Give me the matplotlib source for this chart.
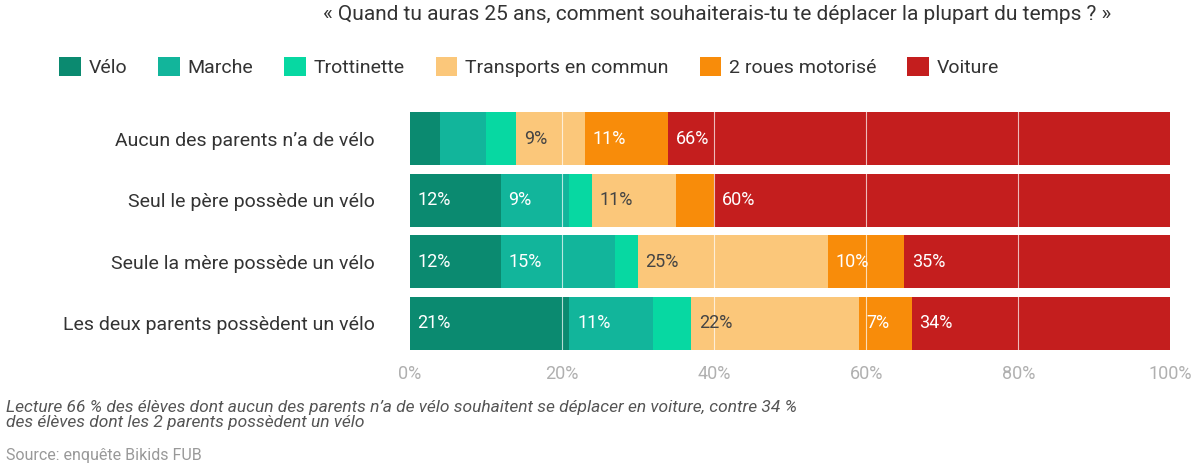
import numpy as np
import matplotlib.pyplot as plt

plt.rcParams['font.family'] = ['Roboto', 'DejaVu Sans']

# catégories (du haut vers le bas)
categories = ["Aucun des parents n’a de vélo",
              "Seul le père possède un vélo",
              "Seule la mère possède un vélo",
              "Les deux parents possèdent un vélo"]

modes = ["Vélo", "Marche", "Trottinette", "Transports en commun",
         "2 roues motorisé", "Voiture"]

velo = [4, 12, 12, 21]
marche = [6, 9, 15, 11]
trottinette = [4, 3, 3, 5]
transports = [9, 11, 25, 22]
deux_roues = [11, 5, 10, 7]
voiture = [66, 60, 35, 34]

colors = ["#0b8a70", "#12b59b", "#07d8a2", "#fbc77a", "#f88c0a", "#c41e1e"]
text_colors = ["white", "white", "white", "#444444", "white", "white"]

series = [velo, marche, trottinette, transports, deux_roues, voiture]

fig = plt.figure(figsize=(11.98, 4.69), dpi=100)
ax = fig.add_axes([0.342, 0.245, 0.635, 0.525])

y = np.arange(len(categories))
left = np.zeros(len(categories))
for vals, col, tcol, name in zip(series, colors, text_colors, modes):
    vals = np.array(vals, dtype=float)
    ax.barh(y, vals, left=left, height=0.86, color=col, label=name, zorder=2)
    for yi, (l, v) in enumerate(zip(left, vals)):
        if v >= 7:
            ax.text(l + 1.0, yi, f"{int(v)}%", va="center", ha="left",
                    color=tcol, fontsize=13, zorder=4)
    left += vals

# lignes de grille blanches par-dessus les barres
for gx in [20, 40, 60, 80]:
    ax.axvline(gx, color="white", lw=0.8, alpha=0.7, zorder=3)

ax.set_xlim(0, 100)
ax.set_ylim(len(categories) - 0.5, -0.5)
ax.set_xticks([0, 20, 40, 60, 80, 100])
ax.set_xticklabels(["0%", "20%", "40%", "60%", "80%", "100%"],
                   color="#b0b0b0", fontsize=13)
ax.set_yticks(y)
ax.set_yticklabels(categories, fontsize=14, color="#333333")
ax.tick_params(length=0, pad=8)
ax.tick_params(axis="y", pad=25)
for s in ax.spines.values():
    s.set_visible(False)

# titre (partiellement hors cadre)
fig.text(0.27, 0.99,
         "« Quand tu auras 25 ans, comment souhaiterais-tu te déplacer la plupart du temps ? »",
         fontsize=15, color="#333333", va="top", ha="left")

# légende
handles, labels = ax.get_legend_handles_labels()
fig.legend(handles, labels, loc="upper left", bbox_to_anchor=(0.035, 0.915),
           ncol=6, frameon=False, fontsize=14, handlelength=1.1,
           handleheight=1.1, handletextpad=0.4, columnspacing=1.6,
           labelcolor="#333333")

# note de lecture et source
fig.text(0.005, 0.148,
         "Lecture 66 % des élèves dont aucun des parents n’a de vélo souhaitent se déplacer en voiture, contre 34 %\n"
         "des élèves dont les 2 parents possèdent un vélo",
         fontsize=12.5, style="italic", color="#555555", va="top", ha="left",
         linespacing=1.0)
fig.text(0.005, 0.045, "Source: enquête Bikids FUB",
         fontsize=11.5, color="#999999", va="top", ha="left")

fig.savefig("out.png", dpi=100)
